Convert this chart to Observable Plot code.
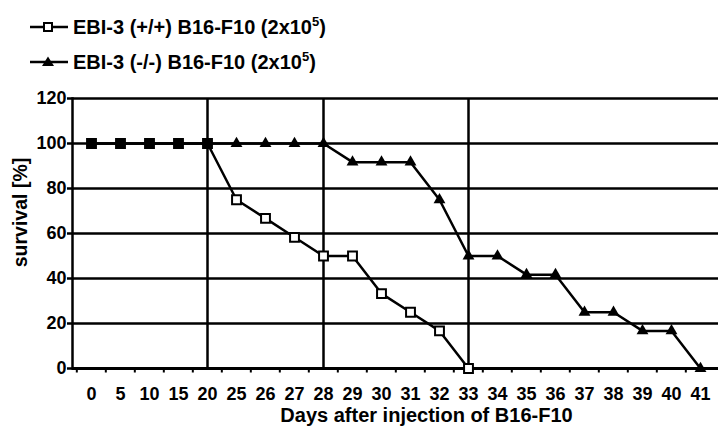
<!DOCTYPE html>
<html><head><meta charset="utf-8">
<script src="https://cdn.jsdelivr.net/npm/d3@7"></script>
<script src="https://cdn.jsdelivr.net/npm/@observablehq/plot@0.6"></script>
<style>
body{margin:0;background:#fff;font-family:"Liberation Sans",Arial,sans-serif;color:#000;}
#legend{height:80px;position:relative;}
.item{position:absolute;left:29px;height:24px;display:flex;align-items:center;font-weight:bold;font-size:20px;white-space:nowrap;}
.item svg{margin-right:5px;}
sup{font-size:13px;vertical-align:8px;line-height:0;}
</style></head><body>
<div id="legend"></div><div id="chart"></div>
<script>
const days = [0,5,10,15,20,25,26,27,28,29,30,31,32,33,34,35,36,37,38,39,40,41];
const wildType = [100,100,100,100,100,75,66.7,58.3,50,50,33.3,25,16.7,0,null,null,null,null,null,null,null,null];
const knockOut = [100,100,100,100,100,100,100,100,100,91.7,91.7,91.7,75,50,50,41.7,41.7,25,25,16.7,16.7,0];
const seriesLabels = ["EBI-3 (+/+) B16-F10 (2x10<sup>5</sup>)", "EBI-3 (-/-) B16-F10 (2x10<sup>5</sup>)"];
const yTicks = [0,20,40,60,80,100,120];
const markerDays = [20,28,33];
const xLabel = "Days after injection of B16-F10";
const yLabel = "survival [%]";

// legend
const legend = document.getElementById("legend");
const symbols = [
  '<rect x="15" y="-4" width="8" height="8" fill="#fff" stroke="#000" stroke-width="2"/>',
  '<path d="M19,-5.5 L25,4 L13,4 Z" fill="#000"/>'
];
seriesLabels.forEach((lab, i) => {
  const div = document.createElement("div");
  div.className = "item";
  div.style.top = (i === 0 ? 15 : 50) + "px";
  div.innerHTML = `<svg width="39" height="24" viewBox="0 -12 39 24"><line x1="1" x2="39" y1="0" y2="0" stroke="#000" stroke-width="2.5"/>${symbols[i]}</svg><span>${lab}</span>`;
  legend.appendChild(div);
});

const rows = days.map((d, i) => ({day: d, wt: wildType[i], ko: knockOut[i]}));
const wtData = rows.filter(r => r.wt != null);
const koData = rows.filter(r => r.ko != null);
const step = (718 - 72) / days.length;

const chart = Plot.plot({
  width: 718, height: 349,
  marginLeft: 72, marginRight: 0, marginTop: 18, marginBottom: 61,
  style: {fontFamily: '"Liberation Sans", Arial, sans-serif', fontSize: "18px", fontWeight: "bold", color: "#000", background: "#fff"},
  x: {type: "point", domain: days, padding: 0.5, label: null},
  y: {domain: [0, 120], label: null},
  marks: [
    Plot.ruleY(yTicks.slice(1), {stroke: "#000", strokeWidth: 2.5}),
    Plot.ruleX(markerDays, {y1: 0, y2: 120, stroke: "#000", strokeWidth: 2.5}),
    Plot.ruleX(days, {x: d => d, dx: -step / 2, y1: 0, y2: -2, stroke: "#000", strokeWidth: 2}),
    Plot.ruleY([0], {stroke: "#000", strokeWidth: 3}),
    Plot.frame({anchor: "left", stroke: "#000", strokeWidth: 2.5}),
    Plot.axisY({ticks: yTicks, tickSize: 5, tickPadding: 1, tickFormat: d => d, fontSize: 18, strokeWidth: 2.5}),
    Plot.axisX({tickSize: 0, tickPadding: 19, fontSize: 18}),
    Plot.line(wtData, {x: "day", y: "wt", stroke: "#000", strokeWidth: 2.5}),
    Plot.line(koData, {x: "day", y: "ko", stroke: "#000", strokeWidth: 2.5}),
    Plot.dot(wtData, {x: "day", y: "wt", symbol: "square", r: 5, stroke: "#000", strokeWidth: 2,
      fill: d => d.wt === d.ko ? "#000" : "#fff"}),
    Plot.dot(koData.filter(d => d.ko !== d.wt), {x: "day", y: "ko", symbol: "triangle", r: 4.4, fill: "#000", stroke: "none"}),
    Plot.text([xLabel], {frameAnchor: "bottom", dx: 31, dy: 53, fontSize: 20, fontWeight: "bold"}),
    Plot.text([yLabel], {frameAnchor: "left", textAnchor: "middle", dx: -52, dy: -21, rotate: -90, fontSize: 19.5, fontWeight: "bold"})
  ]
});
document.getElementById("chart").appendChild(chart);
</script>
</body></html>
